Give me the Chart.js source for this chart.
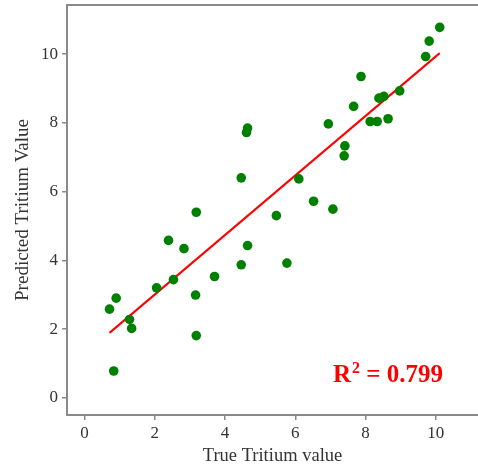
<!DOCTYPE html>
<html>
<head>
<meta charset="utf-8">
<script src="https://cdn.jsdelivr.net/npm/chart.js@4/dist/chart.umd.min.js"></script>
<style>
  html, body { margin: 0; padding: 0; background: #fff; }
  #wrap { width: 478px; height: 469px; }
</style>
</head>
<body>
<div id="wrap"><canvas id="tritiumChart" width="478" height="469"></canvas></div>
<script>
// Значення
const trueValues = [10.11, 9.81, 9.71, 7.87, 8.97, 8.38, 8.52, 7.66, 6.94, 8.13, 8.33, 8.64,
                    7.41, 7.39, 6.10, 6.52, 7.07, 4.64, 4.61, 4.46, 3.18, 2.39, 2.83, 4.64,
                    4.46, 3.70, 2.53, 2.05, 3.16, 0.90, 0.71, 1.28, 1.34, 3.18, 0.83, 5.46, 5.76];
const predictedValues = [10.78, 10.38, 9.93, 9.35, 8.93, 8.72, 8.77, 8.48, 7.97, 8.04, 8.04, 8.12,
                         7.33, 7.04, 6.37, 5.72, 5.49, 7.85, 7.72, 6.40, 5.40, 4.58, 4.34, 4.43,
                         3.87, 3.53, 3.44, 3.20, 2.99, 2.90, 2.58, 2.28, 2.02, 1.81, 0.78, 5.30, 3.92];

// Лінія регресії (кінці)
const fitX = [0.71, 10.11];
const fitY = [1.89, 10.03];

const xTicks = [0, 2, 4, 6, 8, 10];
const yTicks = [0, 2, 4, 6, 8, 10];
const r2Text = '0.799';

const serif = 'Liberation Serif, Times New Roman, serif';
const axisGray = '#8a8a8a';

// Фіксований розмір осі без додаткових відступів
function fixSize(prop, size) {
  return s => {
    s[prop] = size;
    s.paddingTop = 0;
    s.paddingBottom = 0;
    s.paddingLeft = 0;
    s.paddingRight = 0;
  };
}

// Підпис R^2 у правому нижньому куті
const r2Label = {
  id: 'r2Label',
  afterDraw(chart) {
    const { ctx, chartArea } = chart;
    const x = chartArea.right - 145;
    const y = chartArea.bottom - 33;
    ctx.save();
    ctx.fillStyle = '#ff0000';
    ctx.textBaseline = 'alphabetic';
    ctx.textAlign = 'left';
    ctx.font = `bold 25px ${serif}`;
    ctx.fillText('R', x, y);
    const rw = ctx.measureText('R').width;
    ctx.font = `bold 16px ${serif}`;
    ctx.fillText('2', x + rw + 1, y - 9);
    const sw = ctx.measureText('2').width;
    ctx.font = `bold 25px ${serif}`;
    ctx.fillText(' = ' + r2Text, x + rw + sw + 1, y);
    ctx.restore();
  }
};

const tickFont = { family: serif, size: 17 };

const tritiumChart = new Chart(document.getElementById('tritiumChart'), {
  type: 'scatter',
  data: {
    datasets: [
      {
        label: 'Predicted',
        data: trueValues.map((v, i) => ({ x: v, y: predictedValues[i] })),
        backgroundColor: '#008000',
        borderColor: '#008000',
        borderWidth: 0,
        pointRadius: 4.8,
        pointHoverRadius: 4.8
      },
      {
        label: 'Fit',
        data: fitX.map((v, i) => ({ x: v, y: fitY[i] })),
        showLine: true,
        borderColor: '#ff0000',
        borderWidth: 2,
        pointRadius: 0,
        fill: false
      }
    ]
  },
  options: {
    responsive: false,
    animation: false,
    layout: { padding: 0, autoPadding: false },
    plugins: {
      legend: { display: false },
      title: { display: false },
      tooltip: { enabled: false }
    },
    scales: {
      x: {
        type: 'linear',
        position: 'bottom',
        min: -0.5,
        max: 11.2,
        afterBuildTicks: s => { s.ticks = xTicks.map(v => ({ value: v })); },
        afterFit: fixSize('height', 54),
        border: { display: true, color: axisGray, width: 2 },
        grid: { display: true, drawOnChartArea: false, drawTicks: true, tickLength: 5, color: axisGray, lineWidth: 1.5 },
        ticks: { font: tickFont, color: '#333', padding: 3, maxRotation: 0 },
        title: {
          display: true,
          text: 'True Tritium value',
          font: { family: serif, size: 18.5 },
          color: '#333',
          padding: { top: 0, bottom: 2 }
        }
      },
      xTop: {
        type: 'linear',
        position: 'top',
        min: -0.5,
        max: 11.2,
        afterFit: fixSize('height', 5),
        border: { display: true, color: axisGray, width: 2 },
        grid: { display: false, drawTicks: false },
        ticks: { display: false }
      },
      y: {
        type: 'linear',
        position: 'left',
        min: -0.5,
        max: 11.43,
        afterBuildTicks: s => { s.ticks = yTicks.map(v => ({ value: v })); },
        afterFit: fixSize('width', 67),
        border: { display: true, color: axisGray, width: 2 },
        grid: { display: true, drawOnChartArea: false, drawTicks: true, tickLength: 5, color: axisGray, lineWidth: 1.5 },
        ticks: { font: tickFont, color: '#333', padding: 4 },
        title: {
          display: true,
          text: 'Predicted Tritium Value',
          font: { family: serif, size: 19 },
          color: '#333',
          padding: { top: 12, bottom: 0 }
        }
      }
    }
  },
  plugins: [r2Label]
});
</script>
</body>
</html>
